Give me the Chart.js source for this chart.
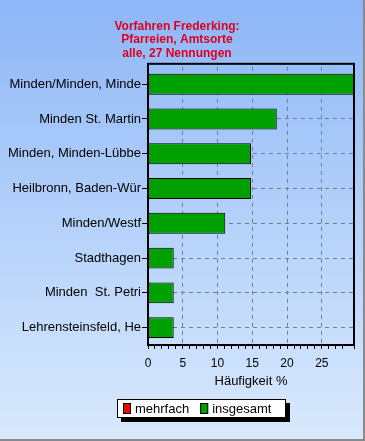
<!DOCTYPE html>
<html>
<head>
<meta charset="utf-8">
<script src="https://cdn.jsdelivr.net/npm/chart.js@4/dist/chart.umd.min.js"></script>
<style>
  html, body { margin: 0; padding: 0; }
  #wrap {
    width: 365px; height: 441px; position: relative;
    background: linear-gradient(to bottom, #8db6f7 0%, #b4d1fa 50%, #d9e9fd 100%);
    box-shadow: inset -2px -2px 0 #8a8a8a;
  }
  canvas { position: absolute; left: 0; top: 0; }
</style>
</head>
<body>
<div id="wrap"><canvas id="myChart" width="365" height="441"></canvas></div>
<script>
// data (27 mentions -> n/27 in %)
var categories = [
  'Minden/Minden, Minde',
  'Minden St. Martin',
  'Minden, Minden-Lübbe',
  'Heilbronn, Baden-Wür',
  'Minden/Westf',
  'Stadthagen',
  'Minden  St. Petri',
  'Lehrensteinsfeld, He'
];
var mehrfach = [0, 0, 0, 0, 0, 0, 0, 0];
var insgesamt = [29.63, 18.52, 14.81, 14.81, 11.11, 3.70, 3.70, 3.70];
var seriesNames = ['mehrfach', 'insgesamt'];
var titleLines = ['Vorfahren Frederking:', 'Pfarreien, Amtsorte', 'alle, 27 Nennungen'];
var xTitle = 'Häufigkeit %';
var xMajorStep = 5;

var FONT = '"Liberation Sans", Arial, sans-serif';
var GRID = '#6f7f99';
var xMax = Math.max.apply(null, insgesamt);

// black frame round the plot area (top edge sits a little above the category band)
var framePlugin = {
  id: 'frame',
  afterDatasetsDraw: function(chart) {
    var a = chart.chartArea, ctx = chart.ctx;
    ctx.save();
    ctx.strokeStyle = '#000';
    ctx.lineWidth = 2;
    ctx.strokeRect(a.left, a.top - 3, a.right - a.left, a.bottom - a.top + 3);
    ctx.restore();
  }
};

// boxed legend with shadow, like the old chart control
var legendPlugin = {
  id: 'boxLegend',
  afterDraw: function(chart) {
    var ctx = chart.ctx;
    var x = 117, y = 399, w = 169, h = 19;
    ctx.save();
    ctx.fillStyle = '#000';
    ctx.fillRect(x + 4, y + 4, w, h);
    ctx.fillStyle = '#fff';
    ctx.fillRect(x, y, w, h);
    ctx.strokeStyle = '#000';
    ctx.lineWidth = 1;
    ctx.strokeRect(x + 0.5, y + 0.5, w - 1, h - 1);
    ctx.font = '13px ' + FONT;
    ctx.textBaseline = 'middle';
    var px = x + 6;
    chart.data.datasets.forEach(function(ds) {
      ctx.fillStyle = ds.backgroundColor;
      ctx.fillRect(px, y + 4, 8, 11);
      ctx.strokeStyle = '#000';
      ctx.strokeRect(px + 0.5, y + 4.5, 7, 10);
      ctx.fillStyle = '#000';
      ctx.fillText(ds.label, px + 12, y + h / 2 + 1);
      px += 12 + ctx.measureText(ds.label).width + 11;
    });
    ctx.restore();
  }
};

var ctx = document.getElementById('myChart').getContext('2d');
var chart = new Chart(ctx, {
  type: 'bar',
  data: {
    labels: categories,
    datasets: [
      { label: seriesNames[0], data: mehrfach, backgroundColor: '#ff0000',
        borderColor: '#000', borderWidth: 1, borderSkipped: false },
      { label: seriesNames[1], data: insgesamt, backgroundColor: '#00a000',
        borderColor: '#000', borderWidth: 1, borderSkipped: false }
    ]
  },
  options: {
    indexAxis: 'y',
    responsive: false,
    animation: false,
    devicePixelRatio: 1,
    categoryPercentage: 0.6,
    barPercentage: 1.0,
    layout: { padding: { left: 0, right: 11, top: 0, bottom: 52 } },
    plugins: {
      legend: { display: false },
      tooltip: { enabled: false },
      title: {
        display: true,
        text: titleLines,
        color: '#dd0020',
        font: { family: FONT, size: 12, weight: 'bold', lineHeight: 1.12 },
        padding: { top: 20, bottom: 6.5 }
      }
    },
    scales: {
      y: {
        stacked: true,
        afterFit: function(scale) { scale.width = 148; },
        grid: {
          offset: false,
          color: GRID,
          lineWidth: 1,
          tickColor: '#000',
          tickLength: 6
        },
        border: { display: true, color: '#000', width: 2, dash: [4, 4] },
        ticks: {
          color: '#000',
          padding: 1,
          font: { family: FONT, size: 13 }
        }
      },
      x: {
        stacked: true,
        min: 0,
        max: xMax,
        afterFit: function(scale) { scale.height = 44; },
        grid: {
          color: function(c) {
            var v = c.tick ? c.tick.value : 0;
            return (v > 0 && v < xMax && v % xMajorStep === 0) ? GRID : 'rgba(0,0,0,0)';
          },
          lineWidth: 1,
          tickColor: '#000',
          tickLength: 4
        },
        border: { display: true, color: '#000', width: 2, dash: [4, 4] },
        ticks: {
          stepSize: 1,
          autoSkip: false,
          maxRotation: 0,
          color: '#000',
          padding: 7,
          font: { family: FONT, size: 12 },
          callback: function(v) { return (v % xMajorStep === 0) ? String(v) : ''; }
        },
        title: {
          display: true,
          text: xTitle,
          color: '#000',
          font: { family: FONT, size: 13 },
          padding: { top: 2, bottom: 0 }
        }
      }
    }
  },
  plugins: [framePlugin, legendPlugin]
});
</script>
</body>
</html>
